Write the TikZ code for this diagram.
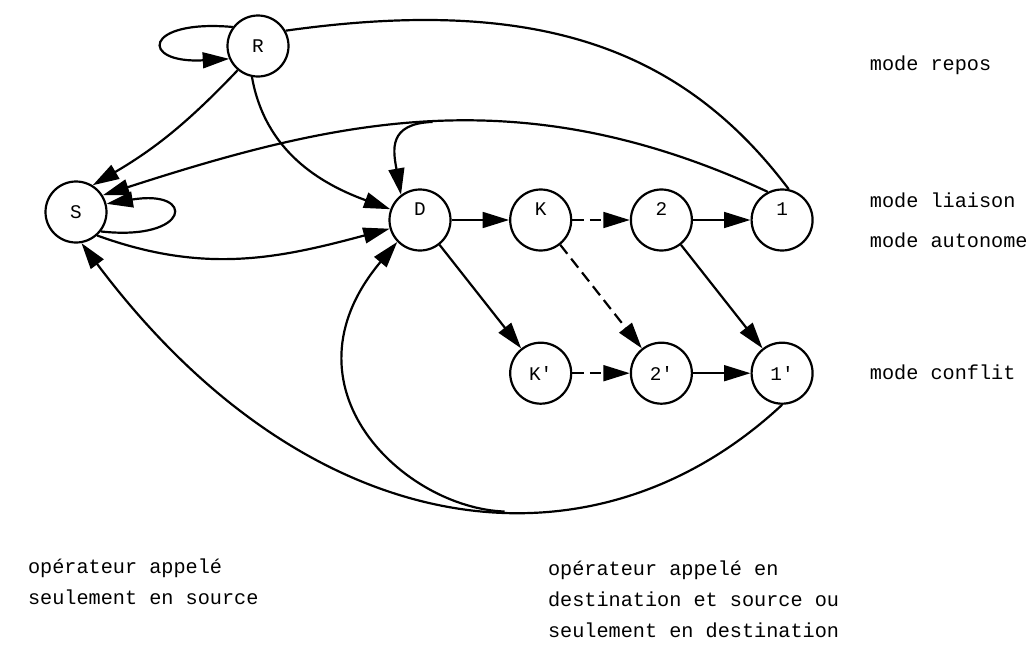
\documentclass[tikz,border=0pt]{standalone}
\usepackage{fontspec}
\setmonofont{Liberation Mono}
\usetikzlibrary{arrows.meta,positioning}

\begin{document}
\begin{tikzpicture}[node distance=1.15cm,
    >={Triangle[length=15pt,width=9pt]},
    line width=1.25pt,
    etat/.style={draw, circle, minimum size=1.22cm, inner sep=0pt, font=\ttfamily\fontsize{11}{13}\selectfont},
    haut/.style={text depth=0.45cm},
    pointille/.style={dash pattern=on 6.5pt off 3.5pt},
    legende/.style={anchor=west, font=\ttfamily\fontsize{11.5}{17}\selectfont},
    bloc/.style={anchor=north west, align=left, inner sep=0pt, font=\ttfamily\fontsize{11.5}{17.5}\selectfont}]
                \useasboundingbox (0,0) rectangle (20.66,-13.42);

                % States
                \node (r) [etat] at (5.16,-0.92) {R};
                \node (s) [etat] at (1.52,-4.24) {S};
                \node (d) [etat, haut] at (8.40,-4.40) {D};
                \node (k) [etat, haut, right=of d] {K};
                \node (deux) [etat, haut, right=of k] {2};
                \node (un) [etat, haut, right=of deux] {1};
                \node (kp) [etat, below=1.8cm of k] {K'};
                \node (deuxp) [etat, right=of kp] {2'};
                \node (unp) [etat, right=of deuxp] {1'};

                % Modes
                \node (repos) [legende] at (17.26,-1.30) {mode repos};
                \node (liaison) [legende] at (17.26,-4.00) {mode liaison};
                \node (autonome) [legende] at (17.26,-4.80) {mode autonome};
                \node (conflit) [legende] at (17.26,-7.44) {mode conflit};

                % Operators
                \node (source) [bloc] at (0.54,-11.15) {opérateur appelé\\seulement en source};
                \node (destination) [bloc] at (10.94,-11.2) {opérateur appelé en\\destination et source ou\\seulement en destination};

                % Loops
                \draw[->] (r.143) .. controls +(-1.8,0.16) and +(-1.8,-0.1) .. (r.204);
                \draw[->] (s.-38) .. controls +(1.8,-0.2) and +(1.8,0.3) .. (s.15);

                % Connections
                \draw[->] (r.-130) to[bend left=8] (s.58);
                \draw[->] (r.-101) to[out=-80,in=160] (d.160);
                \draw[->] (s.-48) to[out=-20,in=195] (d.-164);
                \draw (r.29) .. controls +(8:5) and +(127:3.6) .. (un.78);
                \draw[->] (un.117) .. controls +(-4.9,2.28) and +(4.76,1.54) .. (s.32) coordinate[pos=0.5] (fourche1);
                \draw[->] (fourche1) .. controls +(182:0.9) and +(100:0.9) .. (d.127);
                \draw[->] (unp.-90) .. controls +(-3.8,-3.54) and +(4.56,-6.08) .. (s.-80) coordinate[pos=0.42] (fourche2);
                \draw[->] (fourche2) .. controls +(178:2.0) and +(230:3.8) .. (d.-136);
                \draw[->] (d) -- (k);
                \draw[->, pointille] (k) -- (deux);
                \draw[->] (deux) -- (un);
                \draw[->] (d) -- (kp);
                \draw[->, pointille] (k) -- (deuxp);
                \draw[->] (deux) -- (unp);
                \draw[->, pointille] (kp) -- (deuxp);
                \draw[->] (deuxp) -- (unp);
            \end{tikzpicture}
\end{document}
